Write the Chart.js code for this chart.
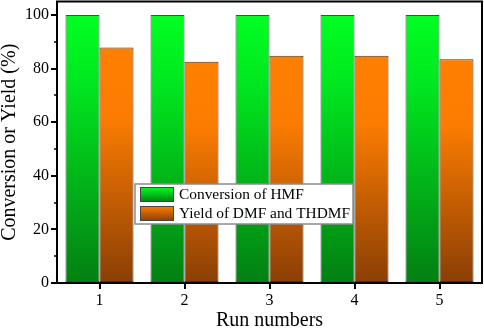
<!DOCTYPE html>
<html>
<head>
<meta charset="utf-8">
<script src="https://cdn.jsdelivr.net/npm/chart.js@4.4.0/dist/chart.umd.min.js"></script>
<style>
  html, body { margin: 0; padding: 0; background: #fff; }
  #wrap { width: 484px; height: 329px; }
</style>
</head>
<body>
<div id="wrap"><canvas id="runChart" width="484" height="329"></canvas></div>
<script>
const runs = ['1', '2', '3', '4', '5'];
const conversionHMF = [100, 100, 100, 100, 100];
const yieldDMF = [87.8, 82.5, 84.8, 84.8, 83.5];
const yTicks = [0, 20, 40, 60, 80, 100];

const FONT = "'Liberation Serif', 'Times New Roman', serif";

// vertical gradient for one bar, bright at the top, dark at the bottom
function barGradient(context, stops) {
    const chart = context.chart;
    const area = chart.chartArea;
    if (!area) return stops[0][1];
    const y = chart.scales.y;
    const top = y.getPixelForValue(context.raw || 0);
    const bottom = y.getPixelForValue(0);
    const g = chart.ctx.createLinearGradient(0, top, 0, bottom);
    stops.forEach(s => g.addColorStop(s[0], s[1]));
    return g;
}

const greenStops = [[0, '#00ff22'], [0.25, '#00e820'], [1, '#037f12']];
const orangeStops = [[0, '#ff8000'], [0.3, '#fb7c00'], [1, '#8a3e06']];

// draws frame, minor ticks and the boxed legend
const framePlugin = {
    id: 'frame',
    afterDraw(chart) {
        const ctx = chart.ctx;
        const a = chart.chartArea;
        const y = chart.scales.y;
        ctx.save();
        ctx.strokeStyle = '#000';
        ctx.lineWidth = 2;
        ctx.strokeRect(a.left, a.top, a.right - a.left, a.bottom - a.top);

        // minor ticks on the y axis
        ctx.lineWidth = 1.5;
        for (let v = 10; v <= 100; v += 20) {
            const py = Math.round(y.getPixelForValue(v));
            ctx.beginPath();
            ctx.moveTo(a.left - 3, py);
            ctx.lineTo(a.left, py);
            ctx.stroke();
        }

        // legend
        const bx = 135, by = 184, bw = 218, bh = 40;
        ctx.fillStyle = '#fff';
        ctx.fillRect(bx, by, bw, bh);
        ctx.strokeStyle = '#8c8c8c';
        ctx.lineWidth = 1.5;
        ctx.strokeRect(bx, by, bw, bh);
        const items = [
            { label: chart.data.datasets[0].label, stops: greenStops },
            { label: chart.data.datasets[1].label, stops: orangeStops }
        ];
        ctx.font = '15.4px ' + FONT;
        ctx.textBaseline = 'middle';
        items.forEach((it, i) => {
            const sy = by + 3 + i * 19;
            const g = ctx.createLinearGradient(0, sy, 0, sy + 15);
            g.addColorStop(0, it.stops[0][1]);
            g.addColorStop(1, it.stops[2][1]);
            ctx.fillStyle = g;
            ctx.fillRect(bx + 5, sy, 34, 15);
            ctx.strokeStyle = '#444';
            ctx.lineWidth = 1;
            ctx.strokeRect(bx + 5.5, sy + 0.5, 33, 14);
            ctx.fillStyle = '#000';
            ctx.fillText(it.label, bx + 44, sy + 8);
        });
        ctx.restore();
    }
};

new Chart(document.getElementById('runChart'), {
    type: 'bar',
    data: {
        labels: runs,
        datasets: [{
            label: 'Conversion of HMF',
            data: conversionHMF,
            backgroundColor: c => barGradient(c, greenStops),
            borderColor: '#4a4a4a',
            borderWidth: 1,
            borderSkipped: false,
            categoryPercentage: 0.8,
            barPercentage: 1.0
        }, {
            label: 'Yield of DMF and THDMF',
            data: yieldDMF,
            backgroundColor: c => barGradient(c, orangeStops),
            borderColor: '#4a3020',
            borderWidth: 1,
            borderSkipped: false,
            categoryPercentage: 0.8,
            barPercentage: 1.0
        }]
    },
    options: {
        responsive: false,
        animation: false,
        layout: { padding: { top: 1.5, right: 2, left: 0, bottom: 0 } },
        plugins: {
            legend: { display: false },
            tooltip: { enabled: false }
        },
        scales: {
            x: {
                grid: {
                    offset: false,
                    drawOnChartArea: false,
                    drawTicks: true,
                    tickLength: 6,
                    color: '#000',
                    lineWidth: 2
                },
                border: { display: true, color: '#000', width: 2 },
                ticks: {
                    color: '#000',
                    padding: 2,
                    font: { family: FONT, size: 16 }
                },
                title: {
                    display: true,
                    text: 'Run numbers',
                    color: '#000',
                    padding: { top: 2, bottom: -4 },
                    font: { family: FONT, size: 20 }
                },
                afterFit(scale) {
                    scale.height = 46;
                    scale.paddingLeft = 0;
                    scale.paddingRight = 0;
                }
            },
            y: {
                min: 0,
                max: 105,
                afterBuildTicks(scale) {
                    scale.ticks = yTicks.map(v => ({ value: v }));
                },
                grid: {
                    drawOnChartArea: false,
                    drawTicks: true,
                    tickLength: 6,
                    color: '#000',
                    lineWidth: 2
                },
                border: { display: true, color: '#000', width: 2 },
                ticks: {
                    color: '#000',
                    padding: 2,
                    font: { family: FONT, size: 16 }
                },
                title: {
                    display: true,
                    text: 'Conversion or Yield (%)',
                    color: '#000',
                    padding: { top: -2, bottom: 0 },
                    font: { family: FONT, size: 20 }
                },
                afterFit(scale) {
                    scale.width = 57;
                    scale.paddingTop = 0;
                    scale.paddingBottom = 0;
                }
            }
        }
    },
    plugins: [framePlugin]
});
</script>
</body>
</html>
